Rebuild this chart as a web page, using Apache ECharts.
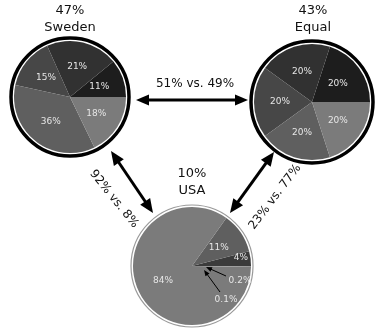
<!DOCTYPE html>
<html><head><meta charset="utf-8">
<script src="https://cdn.jsdelivr.net/npm/echarts@6/dist/echarts.min.js"></script>
<style>html,body{margin:0;padding:0;background:#fff}#c{width:386px;height:336px}</style>
</head><body><div id="c"></div>
<script>
const sliceNames = ['A', 'B', 'C', 'D', 'E'];
const swedenValues = [11, 21, 15, 36, 18];
const equalValues = [20, 20, 20, 20, 20];
const usaValues = [4, 11, 84, 0.1, 0.2];
const groupTitles = [['47%', 'Sweden'], ['43%', 'Equal'], ['10%', 'USA']];
const pairLabels = ['51% vs. 49%', '92% vs. 8%', '23% vs. 77%'];

const grays = ['#1d1d1d', '#313131', '#474747', '#5f5f5f', '#7b7b7b'];
const usaGrays = ['#3b3b3b', '#5f5f5f', '#7b7b7b', '#7b7b7b', '#7f7f7f'];
const FONT = 'DejaVu Sans';

const SW = {c: [70, 97], r: 56, ring: 59};
const EQ = {c: [312, 102], r: 58, ring: 61};
const US = {c: [192, 266], r: 59, ring: 61};

function pieSeries(vals, geo, colors, showFn) {
  return {
    type: 'pie', center: geo.c, radius: [0, geo.r], startAngle: 0, clockwise: false,
    avoidLabelOverlap: false, silent: true, animation: false,
    label: {position: 'inside', color: '#e6e6e6', fontSize: 9, fontFamily: FONT,
      formatter: p => p.value + '%'},
    labelLine: {show: false},
    itemStyle: {borderWidth: 0},
    data: vals.map((v, i) => ({name: sliceNames[i], value: v,
      itemStyle: {color: colors[i]},
      label: {show: showFn ? showFn(v, i) : true}}))
  };
}

function ringCircle(geo, stroke, lw) {
  return {type: 'circle', z: 1, shape: {cx: geo.c[0], cy: geo.c[1], r: geo.ring},
    style: {fill: '#fff', stroke: stroke, lineWidth: lw}};
}

function arrow(x1, y1, x2, y2, lw, hl, hw, both) {
  const els = [];
  const dx = x2 - x1, dy = y2 - y1, L = Math.hypot(dx, dy);
  const ux = dx / L, uy = dy / L, px = -uy, py = ux;
  const sx = both ? x1 + ux * hl * 0.8 : x1, sy = both ? y1 + uy * hl * 0.8 : y1;
  const ex = x2 - ux * hl * 0.8, ey = y2 - uy * hl * 0.8;
  els.push({type: 'line', z: 10, shape: {x1: sx, y1: sy, x2: ex, y2: ey},
    style: {stroke: '#000', lineWidth: lw}});
  const head = (tx, ty, dirx, diry) => ({type: 'polygon', z: 10,
    shape: {points: [[tx, ty],
      [tx - dirx * hl + px * hw / 2, ty - diry * hl + py * hw / 2],
      [tx - dirx * hl - px * hw / 2, ty - diry * hl - py * hw / 2]]},
    style: {fill: '#000'}});
  els.push(head(x2, y2, ux, uy));
  if (both) els.push(head(x1, y1, -ux, -uy));
  return els;
}

function txt(x, y, s, size, rot, color) {
  return {type: 'text', z: 11, x: x, y: y, rotation: rot || 0,
    style: {text: s, fill: color || '#111', fontSize: size, fontFamily: FONT,
      align: 'center', verticalAlign: 'middle'}};
}

const graphics = [
  ringCircle(SW, '#000', 3.5),
  ringCircle(EQ, '#000', 3.5),
  ringCircle(US, '#9a9a9a', 1.2),
  txt(70, 11, groupTitles[0][0], 13), txt(70, 28, groupTitles[0][1], 13),
  txt(313, 11, groupTitles[1][0], 13), txt(313, 28, groupTitles[1][1], 13),
  txt(192, 174, groupTitles[2][0], 13), txt(192, 191, groupTitles[2][1], 13),
  ...arrow(136, 100, 248, 100, 3, 13, 11, true),
  ...arrow(111, 151, 153, 213, 3, 14, 12, true),
  ...arrow(274, 152, 230, 213, 3, 14, 12, true),
  txt(195, 84, pairLabels[0], 12),
  txt(114, 199, pairLabels[1], 12, -51 * Math.PI / 180),
  txt(275, 197, pairLabels[2], 12, 53 * Math.PI / 180),
  txt(241, 258, usaValues[0] + '%', 9, 0, '#e6e6e6'),
  txt(240, 281, usaValues[4] + '%', 9, 0, '#e6e6e6'),
  txt(226, 300, usaValues[3] + '%', 9, 0, '#e6e6e6'),
  ...arrow(226, 276, 206, 267, 1, 6, 5, false),
  ...arrow(220, 292, 204, 270, 1, 6, 5, false)
];

const chart = echarts.init(document.getElementById('c'), null, {renderer: 'canvas'});
chart.setOption({
  backgroundColor: '#fff',
  animation: false,
  series: [
    pieSeries(swedenValues, SW, grays),
    pieSeries(equalValues, EQ, grays),
    pieSeries(usaValues, US, usaGrays, (v, i) => i === 1 || i === 2)
  ],
  graphic: {elements: graphics}
});
</script></body></html>
